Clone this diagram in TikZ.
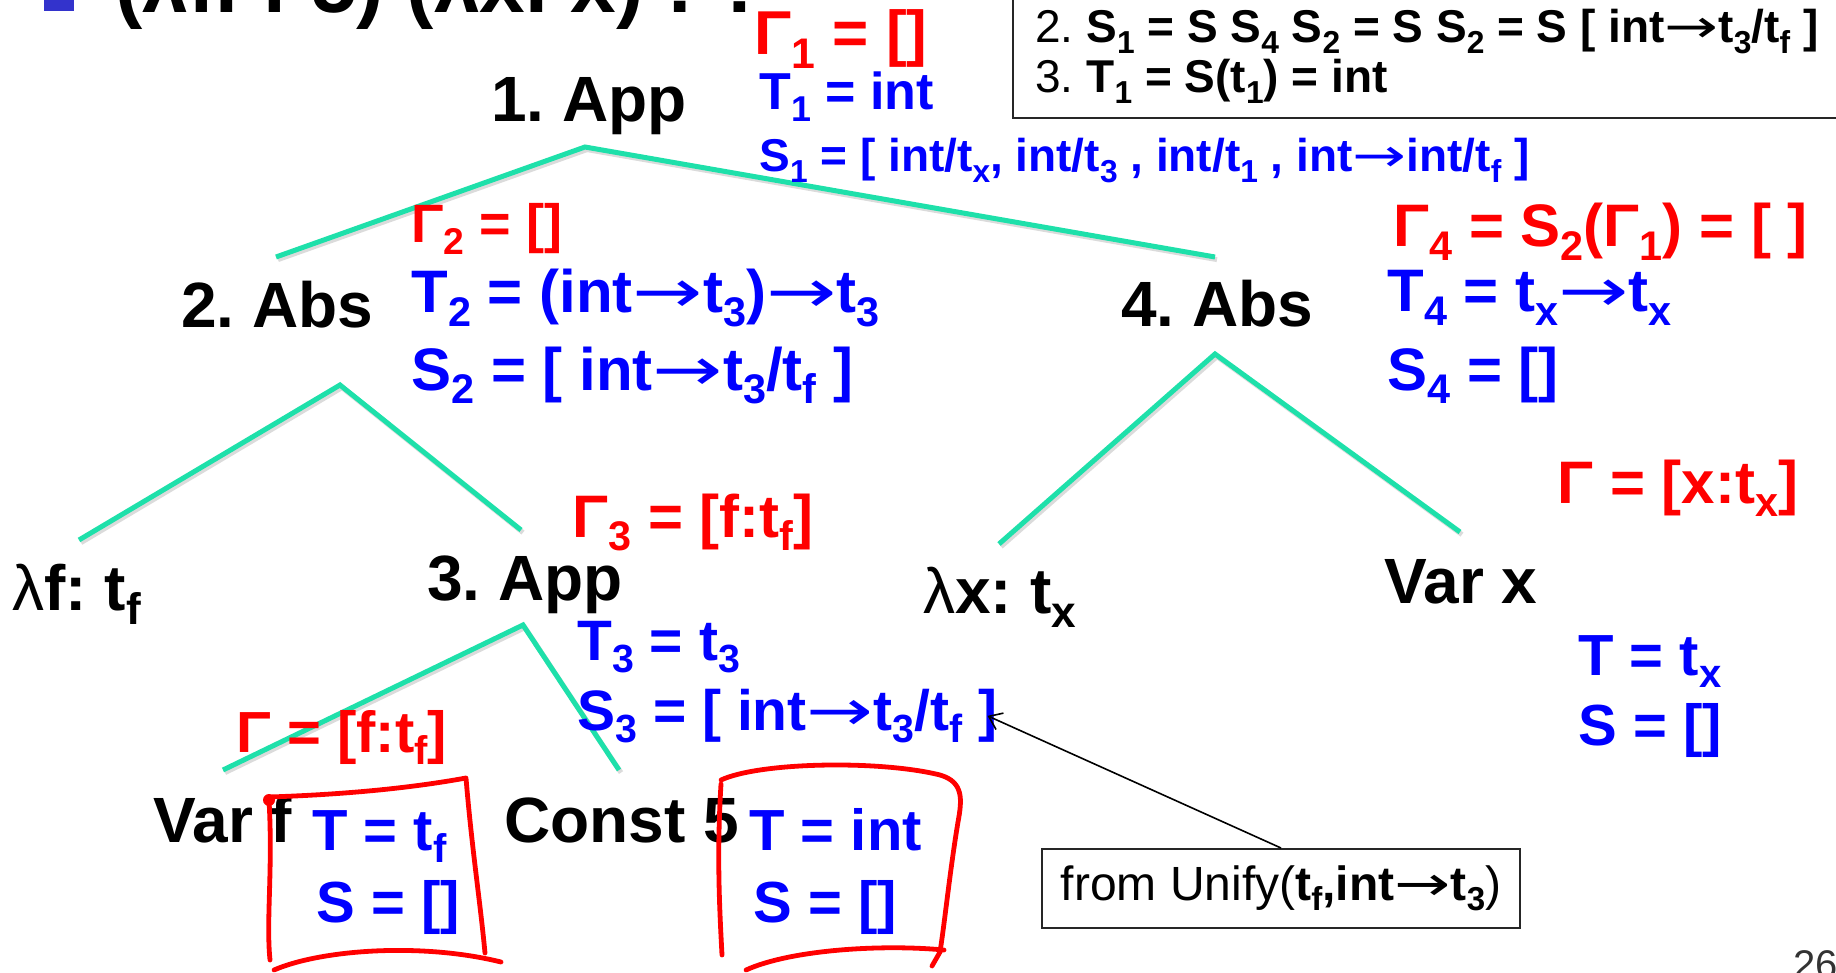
\documentclass[tikz,border=0pt]{standalone}
\usepackage{fontspec}
\setmainfont{Liberation Sans}
\newfontfamily\arrowfont{DejaVu Sans}
\usetikzlibrary{arrows.meta}
\frenchspacing
\definecolor{twiggreen}{RGB}{30,224,170}
\definecolor{tblue}{RGB}{0,0,255}
\definecolor{ered}{RGB}{255,0,0}
\definecolor{bulletblue}{RGB}{51,51,204}
\newcommand{\dn}[1]{\raisebox{-0.22em}{\scalebox{0.69}{#1}}}
\newcommand{\arr}{\scalebox{1.4}[1]{\arrowfont\mdseries →}}
\tikzset{term/.style = {inner sep=0pt, anchor=base west,
                        font=\bfseries\fontsize{32}{38}\selectfont}}
\tikzset{info/.style = {inner sep=0pt, anchor=base west,
                        font=\bfseries\fontsize{30}{36}\selectfont}}
\tikzset{env/.style = {info, text=ered}}
\tikzset{ty/.style = {info, text=tblue}}
\tikzset{twig/.style = {draw=twiggreen, line width=2.5pt,
                        preaction={draw=black!40, opacity=0.35, line width=2.5pt,
                                   transform canvas={shift={(1pt,-1.3pt)}}}}}
\tikzset{scribble/.style = {draw=ered, line width=2.4pt, line cap=round, line join=round}}
\tikzset{notebox/.style = {draw=black!85, line width=1pt, fill=white}}
\tikzset{pointer/.style = {-{Straight Barb[length=6pt, width=9pt]}, line width=0.8pt}}

\begin{document}
\begin{tikzpicture}[x=0.5pt, y=-0.5pt]
    \useasboundingbox (0, 0) rectangle (1836, 973);
    \clip (0, 0) rectangle (1836, 973);

    % slide heading, mostly above the page
    \fill [bulletblue] (44, -10) rectangle (74, 11);
    \node [inner sep=0pt, anchor=base west, font=\bfseries\fontsize{41}{49}\selectfont] (goal) at (115, 13) {(λf. f 5) (λx. x) : ?};

    % steps of the final App rule
    \draw [notebox] (1013, 118) rectangle (1850, -20);
    \node [inner sep=0pt, anchor=base west, font=\fontsize{23}{28}\selectfont] (step2) at (1035, 43) {2. \textbf{S\dn{1} = S S\dn{4} S\dn{2} = S S\dn{2} = S [ int\arr t\dn{3}/t\dn{f} ]}};
    \node [inner sep=0pt, anchor=base west, font=\fontsize{23}{28}\selectfont] (step3) at (1035, 93) {3. \textbf{T\dn{1} = S(t\dn{1}) = int}};

    % tree
    \node [term] (app1) at (491, 122) {1. App};
    \node [term] (abs2) at (181, 328) {2. Abs};
    \node [term] (abs4) at (1121, 327) {4. Abs};
    \node [term] (lamf) at (12, 610) {{\mdseries λ}f: t\dn{f}};
    \node [term] (app3) at (427, 600) {3. App};
    \node [term] (lamx) at (923, 613) {{\mdseries λ}x: t\dn{x}};
    \node [term] (varx) at (1384, 603) {Var x};
    \node [term] (varf) at (153, 842) {Var f};
    \node [term] (const5) at (504, 842) {Const 5};

    \coordinate (app1top) at (585, 147);
    \coordinate (abs2end) at (276, 257);
    \coordinate (abs4end) at (1215, 257);
    \coordinate (abs2top) at (340, 385);
    \coordinate (lamfend) at (79, 540);
    \coordinate (app3end) at (521, 530);
    \coordinate (abs4top) at (1215, 354);
    \coordinate (lamxend) at (999, 544);
    \coordinate (varxend) at (1460, 532);
    \coordinate (app3top) at (523, 625);
    \coordinate (varfend) at (223, 770);
    \coordinate (const5end) at (619, 770);

    \draw [twig] (abs2end) -- (app1top) -- (abs4end);
    \draw [twig] (lamfend) -- (abs2top) -- (app3end);
    \draw [twig] (lamxend) -- (abs4top) -- (varxend);
    \draw [twig] (varfend) -- (app3top) -- (const5end);

    % environments, types and substitutions
    \node [env, font=\bfseries\fontsize{31}{37}\selectfont] (gam1) at (754, 55) {Γ\dn{1} = []};
    \node [ty, font=\bfseries\fontsize{26}{31}\selectfont] (ty1) at (759, 110) {T\dn{1} = int};
    \node [ty, font=\bfseries\fontsize{23}{28}\selectfont] (sub1) at (759, 172) {S\dn{1} = [ int/t\dn{x}, int/t\dn{3} , int/t\dn{1} , int\arr int/t\dn{f} ]};

    \node [env, font=\bfseries\fontsize{27}{32}\selectfont] (gam2) at (411, 243) {Γ\dn{2} = []};
    \node [ty] (ty2) at (411, 313) {T\dn{2} = (int\arr t\dn{3})\arr t\dn{3}};
    \node [ty] (sub2) at (411, 390) {S\dn{2} = [ int\arr t\dn{3}/t\dn{f} ]};

    \node [env] (gam4) at (1393, 247) {Γ\dn{4} = S\dn{2}(Γ\dn{1}) = [ ]};
    \node [ty] (ty4) at (1387, 312) {T\dn{4} = t\dn{x}\arr t\dn{x}};
    \node [ty] (sub4) at (1387, 390) {S\dn{4} = []};

    \node [env] (gam3) at (572, 537) {Γ\dn{3} = [f:t\dn{f}]};
    \node [ty, font=\bfseries\fontsize{28.5}{34}\selectfont] (ty3) at (577, 660) {T\dn{3} = t\dn{3}};
    \node [ty, font=\bfseries\fontsize{28.5}{34}\selectfont] (sub3) at (577, 730) {S\dn{3} = [ int\arr t\dn{3}/t\dn{f} ]};

    \node [env] (gamx) at (1557, 503) {Γ = [x:t\dn{x}]};
    \node [ty, font=\bfseries\fontsize{29}{35}\selectfont] (tyx) at (1578, 675) {T = t\dn{x}};
    \node [ty, font=\bfseries\fontsize{29}{35}\selectfont] (subx) at (1578, 745) {S = []};

    \node [env, font=\bfseries\fontsize{29}{35}\selectfont] (gamf) at (236, 752) {Γ = [f:t\dn{f}]};
    \node [ty, font=\bfseries\fontsize{29}{35}\selectfont] (tyf) at (312, 850) {T = t\dn{f}};
    \node [ty, font=\bfseries\fontsize{29}{35}\selectfont] (subf) at (316, 922) {S = []};

    \node [ty, font=\bfseries\fontsize{29}{35}\selectfont] (tyc) at (749, 850) {T = int};
    \node [ty, font=\bfseries\fontsize{29}{35}\selectfont] (subc) at (753, 922) {S = []};

    % hand drawn boxes round the leaf results
    \fill [ered] (269, 800) circle [radius=3pt];
    \draw [scribble] (269, 800) .. controls (273, 870) and (266, 920) .. (270, 960);
    \draw [scribble] (269, 797) .. controls (330, 795) and (400, 790) .. (466, 778) .. controls (472, 850) and (480, 900) .. (485, 953);
    \draw [scribble] (274, 970) .. controls (320, 950) and (420, 942) .. (501, 962);

    \draw [scribble] (721, 784) .. controls (717, 850) and (719, 900) .. (722, 955);
    \draw [scribble] (721, 780) .. controls (760, 762) and (880, 760) .. (940, 775) .. controls (964, 782) and (962, 800) .. (958, 822) .. controls (950, 870) and (945, 920) .. (940, 952) -- (932, 966);
    \draw [scribble] (746, 970) .. controls (790, 950) and (880, 944) .. (944, 950);

    % note on S3
    \node [notebox, minimum width=239pt, minimum height=39.5pt, inner sep=0pt, font=\fontsize{24}{29}\selectfont] (unify) at (1281, 888.5) {from Unify(\textbf{t\dn{f},int\arr t\dn{3}})};
    \draw [pointer] (unify.north) -- ([xshift=-5pt]sub3.east);

    \node [inner sep=0pt, anchor=base west, text=black!80, font=\fontsize{20}{24}\selectfont] (pageno) at (1793, 978) {26};
\end{tikzpicture}
\end{document}
